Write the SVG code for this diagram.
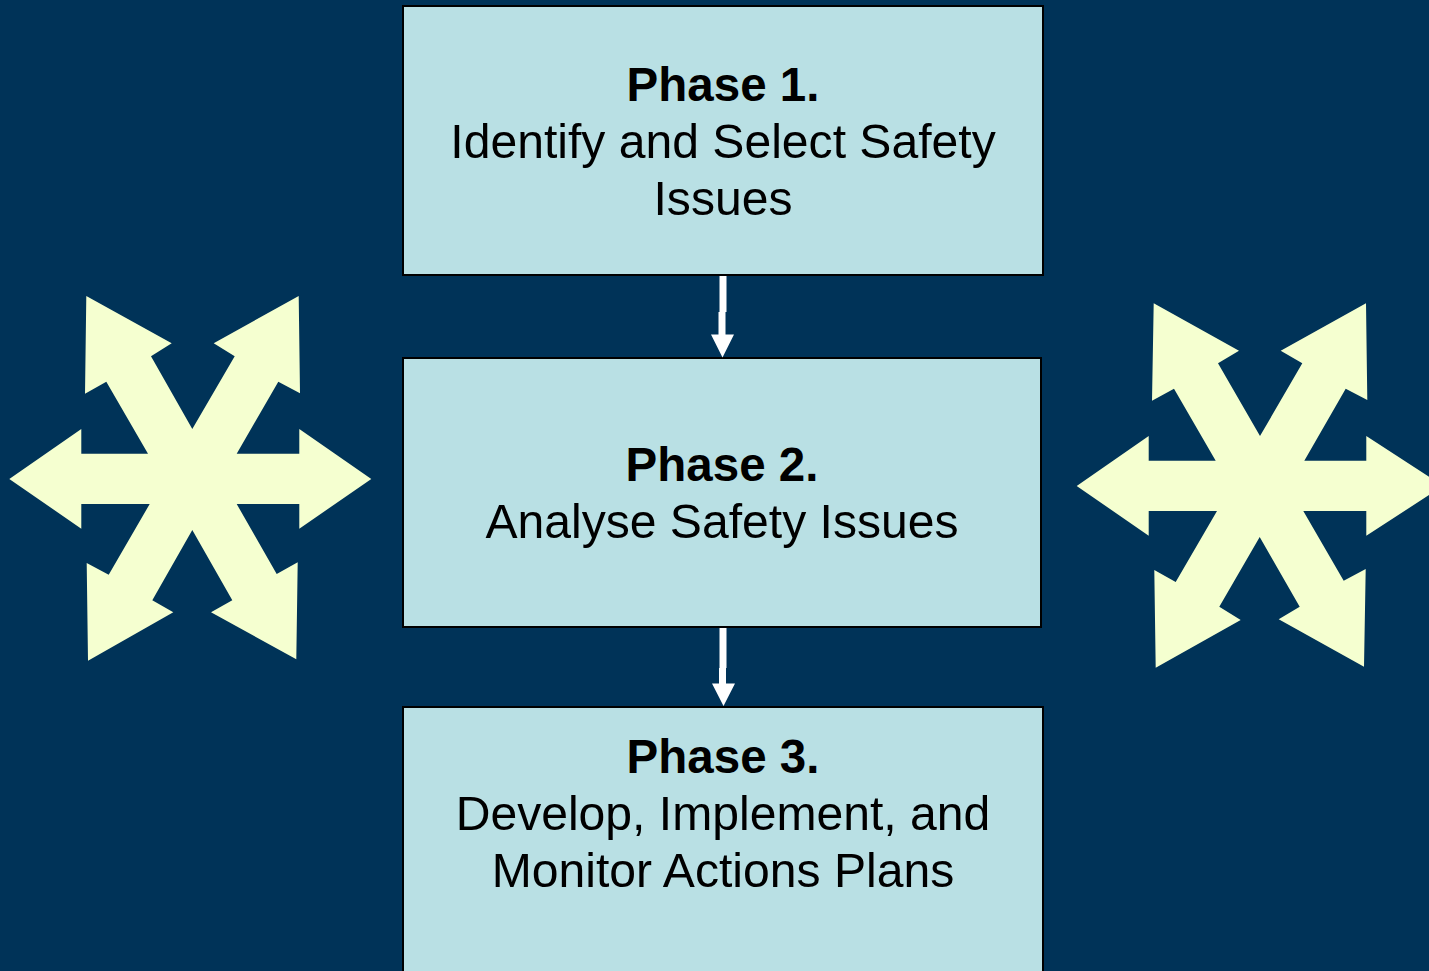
<svg xmlns="http://www.w3.org/2000/svg" width="1429" height="971" viewBox="0 0 1429 971">
<style>
.box{fill:#B9E0E4;stroke:#000;stroke-width:2}
.star{fill:#F5FFD0}
.conn{fill:#FFFFFF}
text{font-family:"Liberation Sans",Arial,sans-serif;font-size:48.1px;fill:#000;text-anchor:middle}
.b{font-weight:bold;font-size:47.5px}
</style>
<rect x="0" y="0" width="1429" height="971" fill="#003358"/>
<g id="star-left">
<polygon class="star" points="9.3,479 81.3,429 81.3,453.7 148,453.7 106.3,381.7 85,393.7 86.3,296 171.7,343.3 151,356.3 192.3,429 234.7,356.3 213.7,343.3 298.7,296 300,393.3 278.3,381.7 236.7,453.7 299.3,453.7 299.3,429 371.3,479 299.3,528.7 299.3,504 236.7,504 276.7,574 297.7,562.3 296.3,659.3 211,612.3 232.3,600.3 192.3,530 152.3,600.3 173.3,612.3 88,660.7 86.7,563 108.7,574.7 149.7,504 81.3,504 81.3,528.7"/>
</g>
<g id="star-right">
<polygon class="star" points="1076.7,486 1148.7,436 1148.7,460.7 1215.7,460.7 1174,388.7 1152,400.7 1153.7,303.3 1239,350.7 1218,363.3 1260,436 1302.3,363.3 1280.7,350.7 1366,303.3 1367.3,400 1345.7,388.7 1304.3,460.7 1366.3,460.7 1366.3,436 1443,486 1366.3,535.7 1366.3,511 1303.3,511 1343.7,580.7 1365.7,569 1364,666.7 1278.7,619.3 1299.7,606.7 1259.7,537 1219.3,606.7 1240.7,620 1155.7,667.7 1154.3,570 1175.7,582 1217,511 1148.7,511 1148.7,535.7"/>
</g>
<g id="phase1">
<rect class="box" x="403" y="6" width="640" height="269"/>
<text class="b" x="723" y="101">Phase 1.</text>
<text x="723" y="158">Identify and Select Safety</text>
<text x="723" y="215">Issues</text>
</g>
<g id="phase2">
<rect class="box" x="403" y="358" width="638" height="269"/>
<text class="b" x="722" y="481">Phase 2.</text>
<text x="722" y="538">Analyse Safety Issues</text>
</g>
<g id="phase3">
<rect class="box" x="403" y="707" width="640" height="280"/>
<text class="b" x="723" y="773">Phase 3.</text>
<text x="723" y="830">Develop, Implement, and</text>
<text x="723" y="887">Monitor Actions Plans</text>
</g>
<g id="connectors">
<polygon class="conn" points="719.5,276 726.5,276 726.5,312 725.5,312 725.5,334.5 734,334.5 722.5,357.5 711,334.5 718.5,334.5 718.5,312 719.5,312"/>
<polygon class="conn" points="719.5,628 726.5,628 726.5,668 726,668 726,683.5 735,683.5 723.5,706 712,683.5 719,683.5 719,668 719.5,668"/>
</g>
</svg>
